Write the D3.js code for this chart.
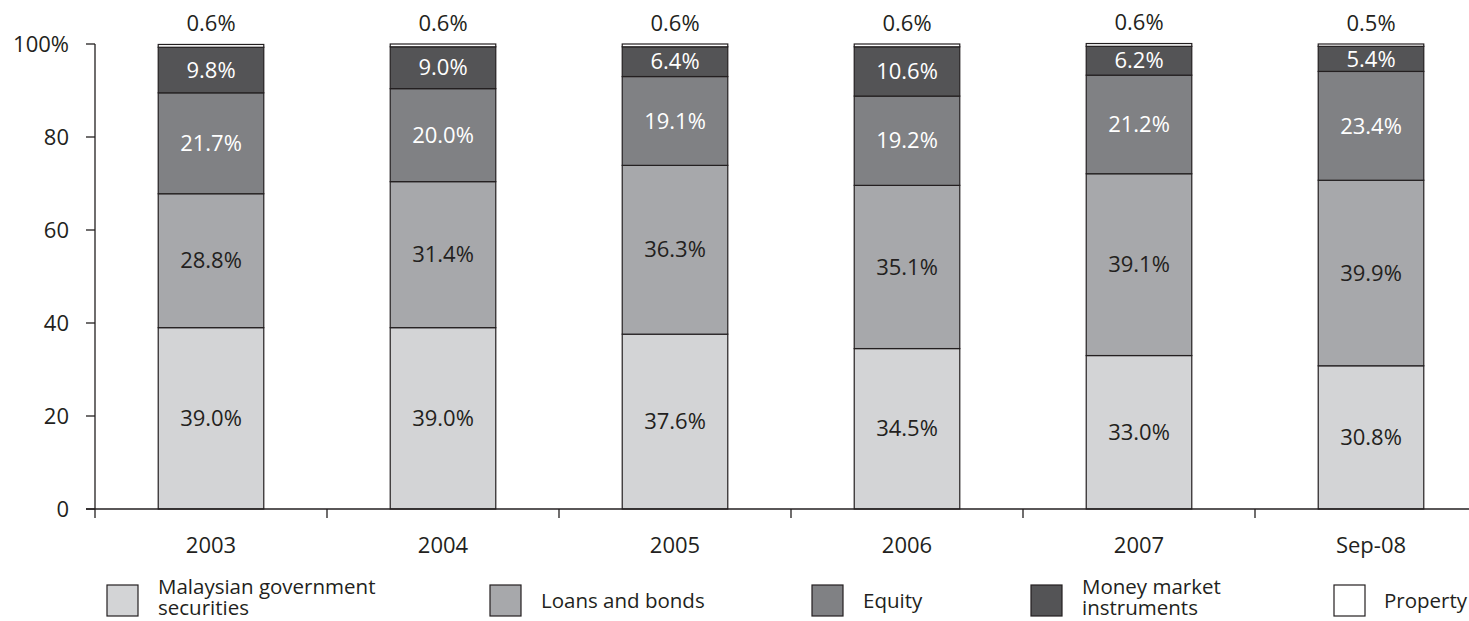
<!DOCTYPE html>
<html><head><meta charset="utf-8">
<script src="https://cdn.jsdelivr.net/npm/d3@7"></script>
<style>
body{margin:0;background:#fff;}
svg{display:block;font-family:"Open Sans",sans-serif;}
</style></head>
<body><svg id="c" width="1469" height="621"></svg>
<script>
const categories = ["2003","2004","2005","2006","2007","Sep-08"];
const seriesNames = ["Malaysian government securities","Loans and bonds","Equity","Money market instruments","Property"];
const mgs = [39.0,39.0,37.6,34.5,33.0,30.8];
const loans = [28.8,31.4,36.3,35.1,39.1,39.9];
const equity = [21.7,20.0,19.1,19.2,21.2,23.4];
const moneyMarket = [9.8,9.0,6.4,10.6,6.2,5.4];
const property = [0.6,0.6,0.6,0.6,0.6,0.5];
const yTicks = [0,20,40,60,80,100];
const yTickLabels = ["0","20","40","60","80","100%"];

const colors = ["#d3d4d6","#a7a8ab","#808184","#545456","#ffffff"];
const labelColors = ["#231f20","#231f20","#ffffff","#ffffff","#231f20"];
const legendLines = [["Malaysian government","securities"],["Loans and bonds"],["Equity"],["Money market","instruments"],["Property"]];
const legendX = [107,490,812,1031,1334];

const keys = ["mgs","loans","equity","mm","property"];
const table = categories.map((c,i)=>({cat:c,mgs:mgs[i],loans:loans[i],equity:equity[i],mm:moneyMarket[i],property:property[i]}));
const stack = d3.stack().keys(keys)(table);

const svg = d3.select("#c");
const fs = 22, lfs = 20.5;
const x0 = 95, step = 232;
const x = d3.scaleBand().domain(categories).range([x0, x0+step*categories.length]).paddingInner(0.545).paddingOuter(0.2725);
const y = d3.scaleLinear().domain([0,100]).range([509,44]);
const axisColor = "#231f20";

// bars
stack.forEach((s,si)=>{
  svg.append("g").selectAll("rect").data(s).join("rect")
    .attr("x",d=>x(d.data.cat)).attr("width",x.bandwidth())
    .attr("y",d=>y(d[1])).attr("height",d=>y(d[0])-y(d[1]))
    .attr("fill",colors[si]).attr("stroke",axisColor).attr("stroke-width",1.2);
});

// labels
stack.forEach((s,si)=>{
  svg.append("g").selectAll("text").data(s).join("text")
    .attr("x",d=>x(d.data.cat)+x.bandwidth()/2)
    .attr("y",d=> si===4 ? y(d[1])-21 : y((d[0]+d[1])/2))
    .attr("dy","0.35em").attr("text-anchor","middle")
    .attr("font-size",fs).attr("fill",labelColors[si])
    .text(d=>(d[1]-d[0]).toFixed(1)+"%");
});

// y axis
const ya = svg.append("g");
ya.append("line").attr("x1",x0).attr("x2",x0).attr("y1",y(100)).attr("y2",y(0)).attr("stroke",axisColor).attr("stroke-width",1.3);
ya.selectAll("line.t").data(yTicks).join("line").attr("class","t")
  .attr("x1",x0-9).attr("x2",x0).attr("y1",d=>y(d)).attr("y2",d=>y(d)).attr("stroke",axisColor).attr("stroke-width",1.3);
ya.selectAll("text").data(yTicks).join("text")
  .attr("x",69).attr("y",d=>y(d)).attr("dy","0.35em").attr("text-anchor","end")
  .attr("font-size",fs).attr("fill",axisColor).text((d,i)=>yTickLabels[i]);

// x axis
const xa = svg.append("g");
xa.append("line").attr("x1",x0-9).attr("x2",1469).attr("y1",y(0)).attr("y2",y(0)).attr("stroke",axisColor).attr("stroke-width",1.3);
const bounds = categories.map(c=>x(c)+x.bandwidth()/2-x.step()/2);
xa.selectAll("line.t").data(bounds).join("line").attr("class","t")
  .attr("x1",d=>d).attr("x2",d=>d).attr("y1",y(0)).attr("y2",y(0)+9).attr("stroke",axisColor).attr("stroke-width",1.3);
xa.selectAll("text").data(categories).join("text")
  .attr("x",d=>x(d)+x.bandwidth()/2).attr("y",y(0)+36).attr("dy","0.35em").attr("text-anchor","middle")
  .attr("font-size",fs).attr("fill",axisColor).text(d=>d);

// legend
const lg = svg.append("g");
seriesNames.forEach((n,i)=>{
  const g = lg.append("g").attr("transform",`translate(${legendX[i]},585)`);
  g.append("rect").attr("width",31).attr("height",31).attr("fill",colors[i]).attr("stroke",axisColor).attr("stroke-width",1.2);
  const lines = legendLines[i];
  const tx = i===4 ? 50 : 51;
  const t = g.append("text").attr("font-size",lfs).attr("fill",axisColor);
  if(lines.length===1){
    t.append("tspan").attr("x",tx).attr("y",23).text(lines[0]);
  } else {
    t.append("tspan").attr("x",tx).attr("y",9).text(lines[0]);
    t.append("tspan").attr("x",tx).attr("y",30).text(lines[1]);
  }
});
</script></body></html>
